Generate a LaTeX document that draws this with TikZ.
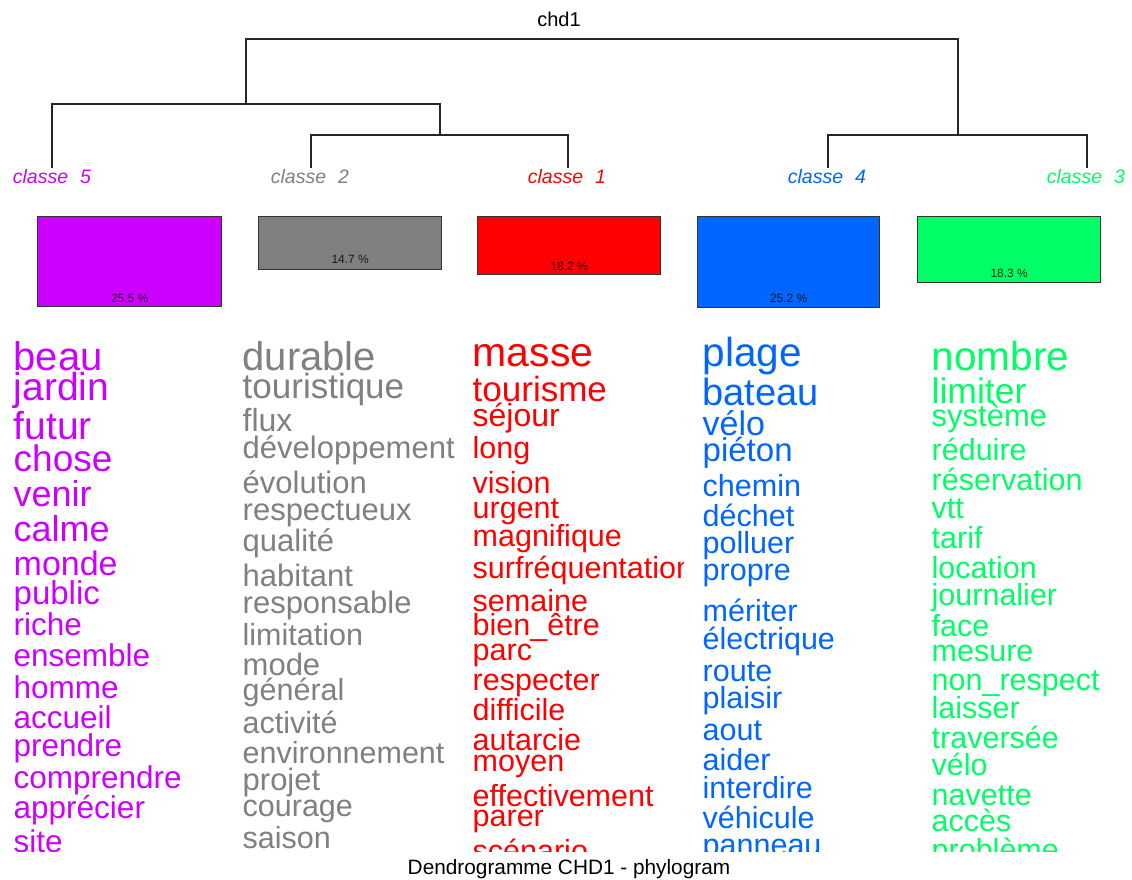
\documentclass[tikz,border=0pt]{standalone}
\usepackage{fontspec}
\setmainfont{Liberation Sans}
\definecolor{cl1}{HTML}{FF0000}
\definecolor{cl2}{HTML}{808080}
\definecolor{cl3}{HTML}{00FF66}
\definecolor{cl4}{HTML}{0066FF}
\definecolor{cl5}{HTML}{CC00FF}
\begin{document}
\begin{tikzpicture}[x=1pt,y=-1pt]
  \tikzset{
    branch/.style={line width=1.4pt, black!85},
    leaf/.style={font=\fontsize{19.5}{19.5}\selectfont\itshape, inner sep=0pt, anchor=base},
    bar/.style={draw=black!80, line width=1.4pt, anchor=north west, inner sep=0pt},
    pct/.style={font=\fontsize{12}{12}\selectfont, text=black, text opacity=0.8, inner sep=0pt},
    word/.style={inner sep=0pt, anchor=base west},
  }
  \useasboundingbox[fill=white] (0,0) rectangle (1132,879);

  \node[inner sep=0pt, anchor=base, font=\fontsize{20}{20}\selectfont] (titre) at (559,26.7) {chd1};
  \node[inner sep=0pt, anchor=base, font=\fontsize{20.8}{20.8}\selectfont] (legende) at (569,874) {Dendrogramme CHD1 - phylogram};

  \coordinate (top) at (568,39);
  \coordinate (n52) at (246,104);
  \coordinate (n21) at (440,135);
  \coordinate (n43) at (958,135);
  \coordinate (l5) at (52,168);
  \coordinate (l2) at (311,168);
  \coordinate (l1) at (568,168);
  \coordinate (l4) at (828,168);
  \coordinate (l3) at (1087,168);

  \draw[branch] (n52) |- (top) -| (n43);
  \draw[branch] (l5) |- (n52) -| (n21);
  \draw[branch] (l2) |- (n21) -| (l1);
  \draw[branch] (l4) |- (n43) -| (l3);

  \node[leaf, text=cl5] (k5) at (52,183.3) {classe\hspace{0.62em}5};
  \node[leaf, text=cl2] (k2) at (310,183.3) {classe\hspace{0.62em}2};
  \node[leaf, text=cl1] (k1) at (567,183.3) {classe\hspace{0.62em}1};
  \node[leaf, text=cl4] (k4) at (827,183.3) {classe\hspace{0.62em}4};
  \node[leaf, text=cl3] (k3) at (1086,183.3) {classe\hspace{0.62em}3};

  \node[bar, fill=cl5, minimum width=184pt, minimum height=90pt] (b5) at (37,216) {};
  \node[bar, fill=cl2, minimum width=183pt, minimum height=53pt] (b2) at (258,216) {};
  \node[bar, fill=cl1, minimum width=183pt, minimum height=58pt] (b1) at (477,216) {};
  \node[bar, fill=cl4, minimum width=182pt, minimum height=91pt] (b4) at (697,216) {};
  \node[bar, fill=cl3, minimum width=183pt, minimum height=66pt] (b3) at (917,216) {};
  \node[pct] (p5) at ([yshift=9pt]b5.south) {25.5 \%};
  \node[pct] (p2) at ([yshift=11pt]b2.south) {14.7 \%};
  \node[pct] (p1) at ([yshift=9pt]b1.south) {18.2 \%};
  \node[pct] (p4) at ([yshift=10pt]b4.south) {25.2 \%};
  \node[pct] (p3) at ([yshift=10pt]b3.south) {18.3 \%};

  % classe 5
  \begin{scope}
    \clip (0,330) rectangle (226,851.5);
    \foreach \w/\y/\s [count=\i] in {beau/370.7/40, jardin/400/39, futur/439.3/39, chose/471.7/37,
      venir/506.7/36, calme/541.7/36, monde/575/34, public/604/33, riche/635/31.5,
      ensemble/666.7/31.5, homme/698/31.5, accueil/728.3/31.5, prendre/756.7/31.5,
      comprendre/788.3/31.5, apprécier/818.3/31.5, site/852/31.5}
      \node[word, text=cl5, font=\fontsize{\s}{\s}\selectfont] (m5-\i) at (13.5,\y) {\w};
  \end{scope}

  % classe 2
  \begin{scope}
    \clip (230,330) rectangle (454,851.5);
    \foreach \w/\y/\s [count=\i] in {durable/370.7/40, touristique/398.3/35, flux/431.7/32,
      développement/458.3/31, évolution/493.3/31, respectueux/520/31, qualité/551.7/31,
      habitant/586.7/31, responsable/613.3/31, limitation/645/30.5, mode/675/31,
      général/700/30.5, activité/733.3/30.5, environnement/763.3/30.5, projet/790/31,
      courage/816.7/30.5, saison/848.3/30.5}
      \node[word, text=cl2, font=\fontsize{\s}{\s}\selectfont] (m2-\i) at (242.5,\y) {\w};
  \end{scope}

  % classe 1
  \begin{scope}
    \clip (460,330) rectangle (683,851.5);
    \foreach \w/\y/\s [count=\i] in {masse/366/41, tourisme/401.7/35, séjour/426.7/32,
      long/458.3/30.5, vision/493.3/30.5, urgent/518.3/30.5, magnifique/546.7/30.5,
      surfréquentation/578.3/30.5, semaine/611.7/30.5, bien\_être/635/30.5, parc/660/30.5,
      respecter/690/30.5, difficile/720/30.5, autarcie/750/30.5, moyen/771.7/30.5,
      effectivement/806.7/30.5, parer/826.7/30.5, scénario/861/30.5}
      \node[word, text=cl1, font=\fontsize{\s}{\s}\selectfont] (m1-\i) at (472.5,\y) {\w};
  \end{scope}

  % classe 4
  \begin{scope}
    \clip (690,330) rectangle (913,851.5);
    \foreach \w/\y/\s [count=\i] in {plage/366/40.5, bateau/405/38, vélo/435/34, piéton/461.7/33,
      chemin/496.7/30.5, déchet/526.7/30.5, polluer/553.3/30.5, propre/580/30.5,
      mériter/621.7/30.5, électrique/649.3/30.5, route/681.7/30.5, plaisir/708.3/30.5,
      aout/740/30.5, aider/770/30.5, interdire/798.3/30.5, véhicule/828.3/30.5,
      panneau/855/30.5}
      \node[word, text=cl4, font=\fontsize{\s}{\s}\selectfont] (m4-\i) at (702.5,\y) {\w};
  \end{scope}

  % classe 3
  \begin{scope}
    \clip (920,330) rectangle (1132,851.5);
    \foreach \w/\y/\s [count=\i] in {nombre/370/40.5, limiter/403.3/35.5, système/426.7/31,
      réduire/460/30.5, réservation/490/30.5, vtt/518.3/30.5, tarif/548.3/30.5,
      location/578.3/30.5, journalier/605/30.5, face/636.7/30.5, mesure/661.7/30.5,
      non\_respect/690/30.5, laisser/718.3/30.5, traversée/748.3/30.5, vélo/775/30.5,
      navette/805/30.5, accès/831.7/30.5, problème/860/30.5}
      \node[word, text=cl3, font=\fontsize{\s}{\s}\selectfont] (m3-\i) at (931.5,\y) {\w};
  \end{scope}
\end{tikzpicture}
\end{document}
